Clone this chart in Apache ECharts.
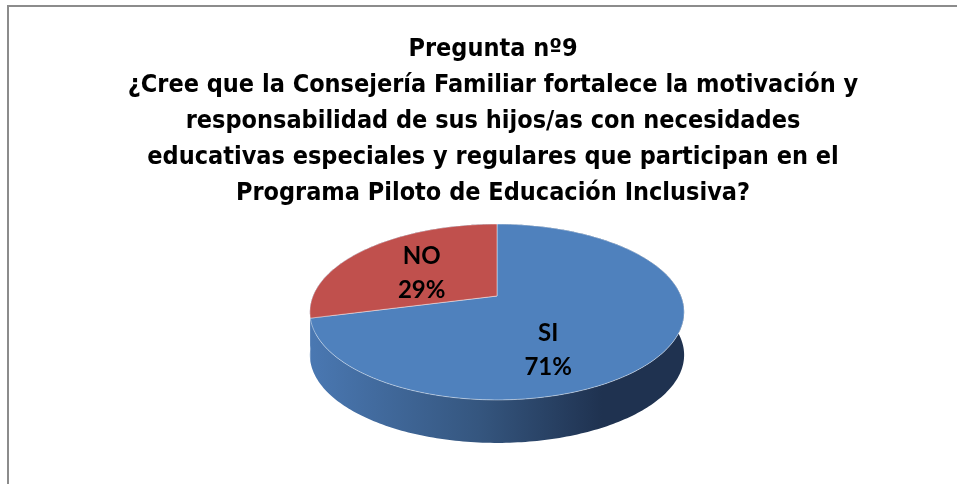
<!DOCTYPE html>
<html lang="es">
<head>
    <meta charset="UTF-8">
    <title>Pregunta nº9</title>
    <style>
        html, body { margin: 0; padding: 0; background: #fff; }
    </style>
</head>
<body>
    <div id="main" style="width: 957px;height:484px;"></div>
    <script src="https://cdn.jsdelivr.net/npm/echarts@6/dist/echarts.min.js"></script>
    <script type="text/javascript">
        // datos
        var categories = ['SI', 'NO'];
        var values = [71, 29];
        var titleLines = [
            'Pregunta nº9',
            '¿Cree que la Consejería Familiar fortalece la motivación y',
            'responsabilidad de sus hijos/as con necesidades',
            'educativas especiales y regulares que participan en el',
            'Programa Piloto de Educación Inclusiva?'
        ];

        // estilo
        var topColors = ['#4F81BD', '#C0504D'];
        // el canto del pastel se ve azul en toda la parte frontal
        var sideStops = [{offset: 0, color: '#4a78b2'}, {offset: 0.45, color: '#35567f'}, {offset: 0.78, color: '#1f3250'}, {offset: 1, color: '#1f3250'}];
        var labelNudge = [[-34, 24], [0, 4]];

        // geometria del pastel 3D (perspectiva simple)
        var CX = 497, CY = 296;  // vertice
        var R = 184, S = 85, K = 0.182, DEPTH = 43;

        function proj(X, Y, dz) {
            var d = 1 - K * Y;
            return [CX + R * X / d, CY + S * Y / d + (dz || 0)];
        }

        var total = values.reduce(function (a, b) { return a + b; }, 0);
        var seriesData = [];
        var acc = 0;
        values.forEach(function (v, i) {
            seriesData.push({ name: categories[i], value: [v, acc, total] });
            acc += v;
        });

        var myChart = echarts.init(document.getElementById('main'));

        var option = {
            animation: false,
            title: {
                text: titleLines.join('\n'),
                left: 493,
                top: 31,
                padding: 0,
                textAlign: 'center',
                textStyle: {
                    fontFamily: '"Liberation Sans Narrow", "DejaVu Sans Condensed", Arial, sans-serif',
                    fontWeight: 'bold',
                    fontSize: 25,
                    lineHeight: 36,
                    color: '#000'
                }
            },
            graphic: [{
                type: 'rect',
                shape: { x: 8, y: 6, width: 2000, height: 2000 },
                style: { fill: 'none', stroke: '#8c8c8c', lineWidth: 2 },
                silent: true
            }],
            series: [{
                type: 'custom',
                name: 'pregunta9',
                coordinateSystem: 'none',
                data: seriesData,
                renderItem: function (params, api) {
                    var v = api.value(0), start = api.value(1), tot = api.value(2);
                    var a0 = start / tot * Math.PI * 2;
                    var a1 = (start + v) / tot * Math.PI * 2;
                    var n = Math.max(2, Math.ceil((a1 - a0) / (Math.PI / 180)));
                    var rimTop = [], rimBot = [];
                    for (var j = 0; j <= n; j++) {
                        var t = a0 + (a1 - a0) * j / n;
                        var X = Math.sin(t), Y = -Math.cos(t);
                        rimTop.push(proj(X, Y, 0));
                        rimBot.push(proj(X, Y, DEPTH));
                    }
                    var idx = params.dataIndex;
                    var sidePts = rimTop.concat(rimBot.slice().reverse());
                    var topPts = [proj(0, 0, 0)].concat(rimTop);

                    var mid = (a0 + a1) / 2;
                    var lp = proj(Math.sin(mid) * 0.55, -Math.cos(mid) * 0.55, 0);
                    var nudge = labelNudge[idx] || [0, 0];
                    var pct = Math.round(v / tot * 100);

                    return {
                        type: 'group',
                        children: [{
                            type: 'polygon',
                            z2: 1,
                            shape: { points: sidePts },
                            style: {
                                fill: new echarts.graphic.LinearGradient(CX - R * 1.02, 0, CX + R * 1.02, 0, sideStops, true)
                            }
                        }, {
                            type: 'polygon',
                            z2: 10,
                            shape: { points: topPts },
                            style: {
                                fill: topColors[idx % topColors.length],
                                stroke: 'rgba(255,255,255,0.55)',
                                lineWidth: 0.8
                            }
                        }, {
                            type: 'text',
                            z2: 20,
                            x: lp[0] + nudge[0],
                            y: lp[1] + nudge[1],
                            style: {
                                text: categories[idx] + '\n' + pct + '%',
                                fontFamily: 'Lato, "Open Sans", sans-serif',
                                fontWeight: 'bold',
                                fontSize: 24,
                                lineHeight: 34,
                                fill: '#000',
                                align: 'center',
                                verticalAlign: 'middle'
                            }
                        }]
                    };
                }
            }]
        };

        myChart.setOption(option);
    </script>
</body>
</html>
